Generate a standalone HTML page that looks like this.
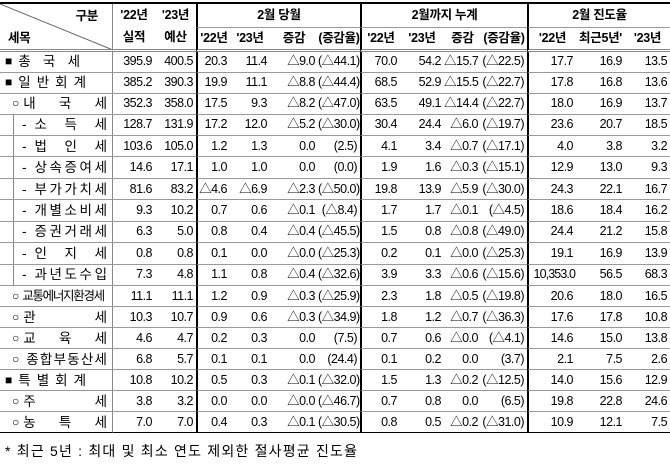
<!DOCTYPE html>
<html><head><meta charset="utf-8"><style>
*{margin:0;padding:0;box-sizing:border-box}
body{width:670px;height:465px;background:#fff;font-family:"Liberation Sans","Noto Sans CJK KR",sans-serif;color:#000;position:relative;overflow:hidden}
table{position:absolute;left:0;top:2px;width:670px;table-layout:fixed;border-collapse:separate;border-spacing:0;border-top:2px solid #000;font-size:12.5px;letter-spacing:-0.5px}
td{padding:0 3px 0 0;text-align:right;white-space:nowrap;border-bottom:1px solid #999;height:20.45px;line-height:19px;overflow:hidden}
td.l{text-align:left;border-right:1px solid #888;padding:0;font-size:13.5px;letter-spacing:0}
td.b{border-left:2px solid #000}
tr.h td{text-align:center;font-weight:bold;font-size:12.5px;padding:0;letter-spacing:-0.3px;height:23.5px;line-height:21px}
tr.h2 td{border-bottom:3px double #888;height:23.5px}
.lab{display:flex;align-items:center;height:20px}
.m{font-size:12px}
.j{display:flex;justify-content:space-between;flex:1}
.sub{margin-left:13px;border-left:1px solid #888;padding-left:8px;padding-right:5px;height:20.45px}
tr:last-child td{border-bottom:1px solid #000}
.foot{position:absolute;left:5px;top:441px;font-size:14px;letter-spacing:1.2px}
</style></head><body>
<table>
<colgroup><col style="width:113px"><col style="width:42px"><col style="width:41px"><col style="width:34px"><col style="width:40px"><col style="width:48px"><col style="width:42px"><col style="width:40px"><col style="width:44px"><col style="width:37px"><col style="width:46px"><col style="width:49px"><col style="width:49px"><col style="width:45px"></colgroup>
<tr class="h"><td class="l" rowspan="2" style="position:relative;border-bottom:3px double #888">
<svg width="113" height="47" style="position:absolute;left:0;top:0"><line x1="0" y1="0" x2="113" y2="46" stroke="#666" stroke-width="1"/></svg>
<span style="position:absolute;right:14px;top:2px">구분</span><span style="position:absolute;left:8px;top:24px">세목</span></td>
<td rowspan="2" style="line-height:22px;border-bottom:3px double #888">'22년<br>실적</td><td rowspan="2" style="line-height:22px;border-bottom:3px double #888">'23년<br>예산</td>
<td class="b" colspan="4">2월 당월</td><td class="b" colspan="4">2월까지 누계</td><td class="b" colspan="3">2월 진도율</td></tr>
<tr class="h h2"><td class="b">'22년</td><td>'23년</td><td>증감</td><td>(증감율)</td><td class="b">'22년</td><td>'23년</td><td>증감</td><td>(증감율)</td><td class="b">'22년</td><td>최근5년'</td><td>'23년</td></tr>

<tr><td class="l"><div class="lab" style="padding-left:5px;width:80px"><span class="m">■</span><span class="j" style="margin-left:6px"><span>총</span><span>국</span><span>세</span></span></div></td><td>395.9</td><td>400.5</td><td class="b">20.3</td><td>11.4</td><td>△9.0</td><td>(△44.1)</td><td class="b">70.0</td><td>54.2</td><td>△15.7</td><td>(△22.5)</td><td class="b">17.7</td><td>16.9</td><td>13.5</td></tr>
<tr><td class="l"><div class="lab" style="padding-left:5px;width:86px"><span class="m">■</span><span class="j" style="margin-left:6px"><span>일</span><span>반</span><span>회</span><span>계</span></span></div></td><td>385.2</td><td>390.3</td><td class="b">19.9</td><td>11.1</td><td>△8.8</td><td>(△44.4)</td><td class="b">68.5</td><td>52.9</td><td>△15.5</td><td>(△22.7)</td><td class="b">17.8</td><td>16.8</td><td>13.6</td></tr>
<tr><td class="l"><div class="lab" style="padding-left:12px;padding-right:5px"><span class="m">○</span><span class="j" style="margin-left:4px"><span>내</span><span>국</span><span>세</span></span></div></td><td>352.3</td><td>358.0</td><td class="b">17.5</td><td>9.3</td><td>△8.2</td><td>(△47.0)</td><td class="b">63.5</td><td>49.1</td><td>△14.4</td><td>(△22.7)</td><td class="b">18.0</td><td>16.9</td><td>13.7</td></tr>
<tr><td class="l"><div class="lab sub"><span>-</span><span class="j" style="margin-left:8px"><span>소</span><span>득</span><span>세</span></span></div></td><td>128.7</td><td>131.9</td><td class="b">17.2</td><td>12.0</td><td>△5.2</td><td>(△30.0)</td><td class="b">30.4</td><td>24.4</td><td>△6.0</td><td>(△19.7)</td><td class="b">23.6</td><td>20.7</td><td>18.5</td></tr>
<tr><td class="l"><div class="lab sub"><span>-</span><span class="j" style="margin-left:8px"><span>법</span><span>인</span><span>세</span></span></div></td><td>103.6</td><td>105.0</td><td class="b">1.2</td><td>1.3</td><td>0.0</td><td>(2.5)</td><td class="b">4.1</td><td>3.4</td><td>△0.7</td><td>(△17.1)</td><td class="b">4.0</td><td>3.8</td><td>3.2</td></tr>
<tr><td class="l"><div class="lab sub"><span>-</span><span class="j" style="margin-left:8px"><span>상</span><span>속</span><span>증</span><span>여</span><span>세</span></span></div></td><td>14.6</td><td>17.1</td><td class="b">1.0</td><td>1.0</td><td>0.0</td><td>(0.0)</td><td class="b">1.9</td><td>1.6</td><td>△0.3</td><td>(△15.1)</td><td class="b">12.9</td><td>13.0</td><td>9.3</td></tr>
<tr><td class="l"><div class="lab sub"><span>-</span><span class="j" style="margin-left:8px"><span>부</span><span>가</span><span>가</span><span>치</span><span>세</span></span></div></td><td>81.6</td><td>83.2</td><td class="b">△4.6</td><td>△6.9</td><td>△2.3</td><td>(△50.0)</td><td class="b">19.8</td><td>13.9</td><td>△5.9</td><td>(△30.0)</td><td class="b">24.3</td><td>22.1</td><td>16.7</td></tr>
<tr><td class="l"><div class="lab sub"><span>-</span><span class="j" style="margin-left:8px"><span>개</span><span>별</span><span>소</span><span>비</span><span>세</span></span></div></td><td>9.3</td><td>10.2</td><td class="b">0.7</td><td>0.6</td><td>△0.1</td><td>(△8.4)</td><td class="b">1.7</td><td>1.7</td><td>△0.1</td><td>(△4.5)</td><td class="b">18.6</td><td>18.4</td><td>16.2</td></tr>
<tr><td class="l"><div class="lab sub"><span>-</span><span class="j" style="margin-left:8px"><span>증</span><span>권</span><span>거</span><span>래</span><span>세</span></span></div></td><td>6.3</td><td>5.0</td><td class="b">0.8</td><td>0.4</td><td>△0.4</td><td>(△45.5)</td><td class="b">1.5</td><td>0.8</td><td>△0.8</td><td>(△49.0)</td><td class="b">24.4</td><td>21.2</td><td>15.8</td></tr>
<tr><td class="l"><div class="lab sub"><span>-</span><span class="j" style="margin-left:8px"><span>인</span><span>지</span><span>세</span></span></div></td><td>0.8</td><td>0.8</td><td class="b">0.1</td><td>0.0</td><td>△0.0</td><td>(△25.3)</td><td class="b">0.2</td><td>0.1</td><td>△0.0</td><td>(△25.3)</td><td class="b">19.1</td><td>16.9</td><td>13.9</td></tr>
<tr><td class="l"><div class="lab sub"><span>-</span><span class="j" style="margin-left:8px"><span>과</span><span>년</span><span>도</span><span>수</span><span>입</span></span></div></td><td>7.3</td><td>4.8</td><td class="b">1.1</td><td>0.8</td><td>△0.4</td><td>(△32.6)</td><td class="b">3.9</td><td>3.3</td><td>△0.6</td><td>(△15.6)</td><td class="b" style="letter-spacing:-0.9px;padding-right:1px">10,353.0</td><td>56.5</td><td>68.3</td></tr>
<tr><td class="l"><div class="lab" style="padding-left:12px;padding-right:5px"><span class="m">○</span><span style="margin-left:3px;font-size:12.5px;letter-spacing:-1.3px">교통에너지환경세</span></div></td><td>11.1</td><td>11.1</td><td class="b">1.2</td><td>0.9</td><td>△0.3</td><td>(△25.9)</td><td class="b">2.3</td><td>1.8</td><td>△0.5</td><td>(△19.8)</td><td class="b">20.6</td><td>18.0</td><td>16.5</td></tr>
<tr><td class="l"><div class="lab" style="padding-left:12px;padding-right:5px"><span class="m">○</span><span class="j" style="margin-left:4px"><span>관</span><span>세</span></span></div></td><td>10.3</td><td>10.7</td><td class="b">0.9</td><td>0.6</td><td>△0.3</td><td>(△34.9)</td><td class="b">1.8</td><td>1.2</td><td>△0.7</td><td>(△36.3)</td><td class="b">17.6</td><td>17.8</td><td>10.8</td></tr>
<tr><td class="l"><div class="lab" style="padding-left:12px;padding-right:5px"><span class="m">○</span><span class="j" style="margin-left:4px"><span>교</span><span>육</span><span>세</span></span></div></td><td>4.6</td><td>4.7</td><td class="b">0.2</td><td>0.3</td><td>0.0</td><td>(7.5)</td><td class="b">0.7</td><td>0.6</td><td>△0.0</td><td>(△4.1)</td><td class="b">14.6</td><td>15.0</td><td>13.8</td></tr>
<tr><td class="l"><div class="lab" style="padding-left:12px;padding-right:5px"><span class="m">○</span><span class="j" style="margin-left:7px"><span>종</span><span>합</span><span>부</span><span>동</span><span>산</span><span>세</span></span></div></td><td>6.8</td><td>5.7</td><td class="b">0.1</td><td>0.1</td><td>0.0</td><td>(24.4)</td><td class="b">0.1</td><td>0.2</td><td>0.0</td><td>(3.7)</td><td class="b">2.1</td><td>7.5</td><td>2.6</td></tr>
<tr><td class="l"><div class="lab" style="padding-left:5px;width:86px"><span class="m">■</span><span class="j" style="margin-left:6px"><span>특</span><span>별</span><span>회</span><span>계</span></span></div></td><td>10.8</td><td>10.2</td><td class="b">0.5</td><td>0.3</td><td>△0.1</td><td>(△32.0)</td><td class="b">1.5</td><td>1.3</td><td>△0.2</td><td>(△12.5)</td><td class="b">14.0</td><td>15.6</td><td>12.9</td></tr>
<tr><td class="l"><div class="lab" style="padding-left:12px;padding-right:5px"><span class="m">○</span><span class="j" style="margin-left:4px"><span>주</span><span>세</span></span></div></td><td>3.8</td><td>3.2</td><td class="b">0.0</td><td>0.0</td><td>△0.0</td><td>(△46.7)</td><td class="b">0.7</td><td>0.8</td><td>0.0</td><td>(6.5)</td><td class="b">19.8</td><td>22.8</td><td>24.6</td></tr>
<tr><td class="l"><div class="lab" style="padding-left:12px;padding-right:5px"><span class="m">○</span><span class="j" style="margin-left:4px"><span>농</span><span>특</span><span>세</span></span></div></td><td>7.0</td><td>7.0</td><td class="b">0.4</td><td>0.3</td><td>△0.1</td><td>(△30.5)</td><td class="b">0.8</td><td>0.5</td><td>△0.2</td><td>(△31.0)</td><td class="b">10.9</td><td>12.1</td><td>7.5</td></tr>
</table>
<div class="foot">* 최근 5년 : 최대 및 최소 연도 제외한 절사평균 진도율</div>
</body></html>
